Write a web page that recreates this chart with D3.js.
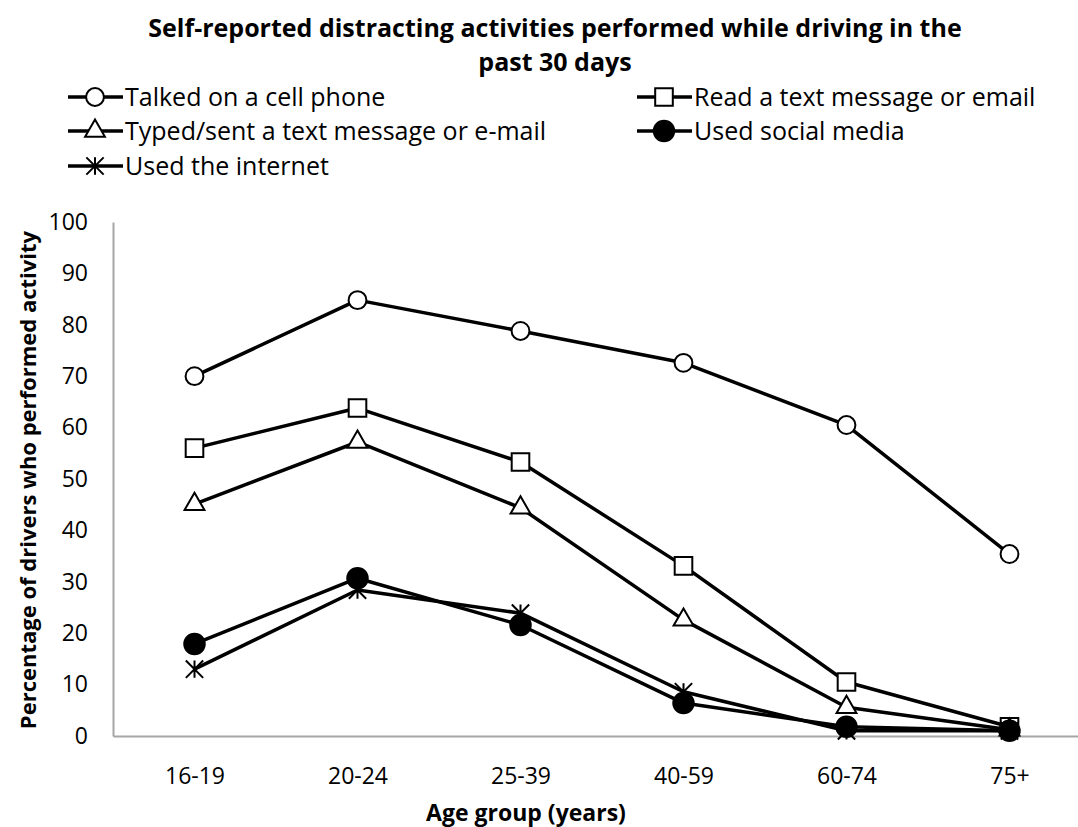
<!DOCTYPE html>
<html>
<head>
<meta charset="utf-8">
<script src="https://cdn.jsdelivr.net/npm/d3@7"></script>
<style>
body { margin: 0; background: #fff; }
text { font-family: "Open Sans", sans-serif; fill: #000; }
</style>
</head>
<body>
<script>
// data
const categories = ["16-19", "20-24", "25-39", "40-59", "60-74", "75+"];
const talked = [70.0, 84.8, 78.8, 72.6, 60.5, 35.4];
const readText = [56.0, 63.8, 53.3, 33.1, 10.5, 1.8];
const typedText = [45.1, 57.2, 44.4, 22.6, 5.6, 1.2];
const socialMedia = [17.9, 30.7, 21.6, 6.4, 1.8, 1.0];
const internet = [13.0, 28.4, 23.9, 8.6, 1.0, 1.0];
const seriesNames = ["Talked on a cell phone", "Read a text message or email",
  "Typed/sent a text message or e-mail", "Used social media", "Used the internet"];
const yTicks = [0, 10, 20, 30, 40, 50, 60, 70, 80, 90, 100];
const titleLines = ["Self-reported distracting activities performed while driving in the", "past 30 days"];

const width = 1078, height = 827;

// excel style star marker: an x with a vertical bar
const starSymbol = {
  draw(ctx, size) {
    const r = Math.sqrt(size) / 2;
    ctx.moveTo(-r, -r); ctx.lineTo(r, r);
    ctx.moveTo(-r, r); ctx.lineTo(r, -r);
    ctx.moveTo(0, -r); ctx.lineTo(0, r);
  }
};

const series = [
  {name: seriesNames[0], values: talked, type: d3.symbolCircle, size: 250, fill: "#fff"},
  {name: seriesNames[1], values: readText, type: d3.symbolSquare, size: 310, fill: "#fff"},
  {name: seriesNames[2], values: typedText, type: d3.symbolTriangle, size: 170, fill: "#fff"},
  {name: seriesNames[3], values: socialMedia, type: d3.symbolCircle, size: 330, fill: "#000"},
  {name: seriesNames[4], values: internet, type: starSymbol, size: 300, fill: "none"}
];

const svg = d3.select("body").append("svg")
  .attr("width", width)
  .attr("height", height);

const x = d3.scalePoint().domain(categories).range([113, 1091]).padding(0.5);
const y = d3.scaleLinear().domain([0, 100]).range([736, 222]);

// title
svg.append("text")
  .attr("text-anchor", "middle")
  .style("font-weight", "bold")
  .style("font-size", "25px")
  .selectAll("tspan")
  .data(titleLines)
  .join("tspan")
  .attr("x", 555)
  .attr("y", (d, i) => 37 + i * 34)
  .text(d => d);

// axes
const yAxis = svg.append("g")
  .attr("transform", "translate(113,0)")
  .call(d3.axisLeft(y).tickValues(yTicks).tickSize(0).tickPadding(25));
const xAxis = svg.append("g")
  .attr("transform", "translate(0,736)")
  .call(d3.axisBottom(x).tickSize(0).tickPadding(32));
[yAxis, xAxis].forEach(function(g) {
  g.select(".domain").attr("stroke", "#a6a6a6").attr("stroke-width", 2);
  g.selectAll("text").style("font-size", "23px").style("font-family", "'Open Sans', sans-serif").attr("fill", "#000");
});

svg.append("text")
  .attr("x", 526)
  .attr("y", 821)
  .attr("text-anchor", "middle")
  .style("font-weight", "bold")
  .style("font-size", "23px")
  .text("Age group (years)");

svg.append("text")
  .attr("transform", "translate(36,480) rotate(-90)")
  .attr("text-anchor", "middle")
  .style("font-weight", "bold")
  .style("font-size", "22px")
  .text("Percentage of drivers who performed activity");

// lines + markers
const line = d3.line()
  .x((d, i) => x(categories[i]))
  .y(d => y(d));

function drawMarker(sel, s) {
  sel.attr("d", d3.symbol().type(s.type).size(s.size))
    .attr("fill", s.fill)
    .attr("stroke", "#000")
    .attr("stroke-width", 2);
}

series.forEach(function(s) {
  const g = svg.append("g");
  g.append("path")
    .attr("d", line(s.values))
    .attr("fill", "none")
    .attr("stroke", "#000")
    .attr("stroke-width", 3.5)
    .attr("stroke-linejoin", "round");
  g.selectAll("path.mk")
    .data(s.values)
    .join("path")
    .attr("class", "mk")
    .attr("transform", (d, i) => "translate(" + x(categories[i]) + "," + y(d) + ")")
    .call(drawMarker, s);
});

// legend
const legendPos = [[68, 97], [637, 97], [68, 131], [637, 131], [68, 166]];
const legend = svg.append("g");
series.forEach(function(s, i) {
  const g = legend.append("g")
    .attr("transform", "translate(" + legendPos[i][0] + "," + legendPos[i][1] + ")");
  g.append("line")
    .attr("x1", 0).attr("x2", 55)
    .attr("stroke", "#000")
    .attr("stroke-width", 3.5);
  g.append("path")
    .attr("transform", "translate(27,0)")
    .call(drawMarker, s);
  g.append("text")
    .attr("x", 57)
    .attr("dy", "0.35em")
    .style("font-size", "25px")
    .text(s.name);
});
</script>
</body>
</html>
